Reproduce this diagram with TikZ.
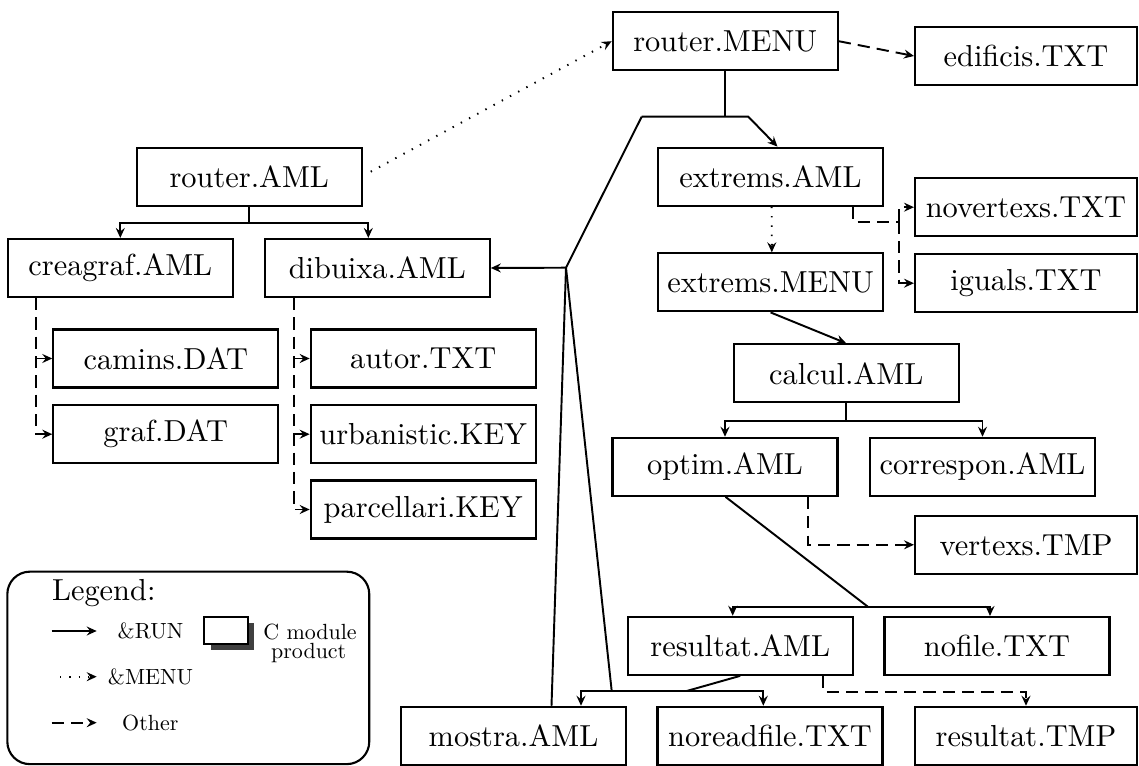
\documentclass[tikz,border=0pt]{standalone}
\usetikzlibrary{arrows.meta,shadows,calc}
\newcommand\bigtxt[1]{\scalebox{1.73}{#1}}
\newcommand\smalltxt[1]{\scalebox{1.25}{#1}}
\begin{document}
\begin{tikzpicture}[x=0.02cm,y=-0.02cm,
  >={Stealth[length=2mm,width=1.8mm,inset=0.7mm]},
  every node/.style={font=\fontsize{10}{12}\selectfont},
  box/.style={draw,line width=1.2pt,inner sep=0pt,minimum width=4.5cm,minimum height=1.16cm},
  rbox/.style={box,minimum width=4.44cm},
  conn/.style={line width=1.1pt},
  dsh/.style={conn,dash pattern=on 7pt off 4pt},
  dts/.style={conn,dash pattern=on 0.8pt off 4.5pt},
  small/.style={inner sep=0pt}]
\useasboundingbox (0,0) rectangle (1139,766);

% boxes
\node[box] (rmenu) at (725.2,41.2) {\bigtxt{router.MENU}};
\node[rbox] (edif) at (1026,56) {\bigtxt{edificis.TXT}};
\node[box] (raml) at (249.2,177.2) {\bigtxt{router.AML}};
\node[box] (eaml) at (770.5,176.7) {\bigtxt{extrems.AML}};
\node[box] (emenu) at (770.6,282.4) {\bigtxt{extrems.MENU}};
\node[rbox] (novert) at (1026,207.2) {\bigtxt{novertexs.TXT}};
\node[rbox] (iguals) at (1026,283.2) {\bigtxt{iguals.TXT}};
\node[box] (creagraf) at (120.3,268) {\bigtxt{creagraf.AML}};
\node[box] (dibuixa) at (377.3,268) {\bigtxt{dibuixa.AML}};
\node[box] (camins) at (165.8,358.5) {\bigtxt{camins.DAT}};
\node[box] (graf) at (165.8,434.2) {\bigtxt{graf.DAT}};
\node[box] (autor) at (423.2,358.5) {\bigtxt{autor.TXT}};
\node[box] (urban) at (423.2,434.2) {\bigtxt{urbanistic.KEY}};
\node[box] (parcel) at (423.2,509.5) {\bigtxt{parcellari.KEY}};
\node[box] (calcul) at (846.2,373.3) {\bigtxt{calcul.AML}};
\node[box] (optim) at (725,466.8) {\bigtxt{optim.AML}};
\node[box] (corresp) at (982.5,466.8) {\bigtxt{correspon.AML}};
\node[rbox] (vertexs) at (1026,544.8) {\bigtxt{vertexs.TMP}};
\node[box] (resaml) at (740.2,645.8) {\bigtxt{resultat.AML}};
\node[box] (nofile) at (997,646) {\bigtxt{nofile.TXT}};
\node[box] (mostra) at (513.5,735.8) {\bigtxt{mostra.AML}};
\node[box] (noread) at (770,735.8) {\bigtxt{noreadfile.TXT}};
\node[rbox] (restmp) at (1026,735.8) {\bigtxt{resultat.TMP}};

% router.MENU fan-out
\coordinate (m1) at (725.2,116.7);
\coordinate (m2) at (641.7,116.7);
\coordinate (m3) at (748.3,116.7);
\coordinate (J) at (566,267.7);
\coordinate (rb) at (611.7,691);
\draw[conn] (rmenu.south) -- (m1);
\draw[conn,->] (m2) -- (m3) -- ($(eaml.north)+(7,0)$);
\draw[conn] (m2) -- (J);
\draw[conn,->] (J) -- (dibuixa.east);
\draw[conn] (J) -- ($(mostra.north)+(38,0)$);
\draw[conn] (J) -- (rb);

% router.AML -> router.MENU (dotted)
\draw[dts,->] ($(raml.east)+(8,-5.5)$) -- (rmenu.west);
% router.MENU -> edificis (dashed)
\draw[dsh,->] (rmenu.east) -- (edif.west);

% extrems.AML
\draw[dts,->] ($(eaml.south)+(1.2,0)$) -- ($(emenu.north)+(1.2,0)$);
\coordinate (d1) at (899,221.7);
\draw[dsh] ($(eaml.south)+(82.8,0)$) |- (d1);
\draw[dsh,->] (d1) |- (novert.west);
\draw[dsh,->] (d1) |- (iguals.west);

% extrems.MENU -> calcul
\draw[conn,->] (emenu.south) -- (calcul.north);
% calcul -> optim, correspon
\draw[conn] (calcul.south) -- ++(0,17.2) coordinate (c1);
\draw[conn,->] (c1) -| (optim.north);
\draw[conn,->] (c1) -| (corresp.north);

% optim -> resultat, nofile
\coordinate (K) at (868.2,607);
\draw[conn] ($(optim.south)+(0.5,0)$) -- (K);
\draw[conn,->] (K) -| ($(resaml.north)+(-7.5,0)$);
\draw[conn,->] (K) -| ($(nofile.north)+(-7,0)$);
\draw[dsh,->] ($(optim.south)+(83,0)$) |- (vertexs.west);

% resultat -> mostra, noreadfile, resultat.TMP
\coordinate (L) at (686.7,691);
\draw[conn] (resaml.south) -- (L);
\draw[conn,->] (L) -| ($(mostra.north)+(67.5,0)$);
\draw[conn,->] (L) -| ($(noread.north)+(-6.7,0)$);
\draw[dsh,->] ($(resaml.south)+(83,0)$) -- ++(0,15.7) -| (restmp.north);

% router.AML -> creagraf, dibuixa
\draw[conn] (raml.south) -- ++(0,15.7) coordinate (r1);
\draw[conn,->] (r1) -| (creagraf.north);
\draw[conn,->] (r1) -| ($(dibuixa.north)+(-9,0)$);

% creagraf files
\coordinate (cg) at ($(creagraf.south west)+(29.3,0)$);
\draw[dsh,->] (cg) |- (graf.west);
\draw[dsh,->] (cg |- camins.west) -- (camins.west);
% dibuixa files
\coordinate (dg) at ($(dibuixa.south west)+(30.3,0)$);
\draw[dsh,->] (dg) |- (parcel.west);
\draw[dsh,->] (dg |- autor.west) -- (autor.west);
\draw[dsh,->] (dg |- urban.west) -- (urban.west);

% legend
\node[draw,line width=1.2pt,rounded corners=0.45cm,minimum width=7.24cm,minimum height=3.85cm] (legend) at (188.3,667.9) {};
\node[anchor=base west,inner sep=0pt] (legtitle) at (51.7,600.5) {\bigtxt{Legend:}};
\coordinate (ls1) at (51.7,631);
\coordinate (ls2) at (96.7,631);
\draw[conn,->] (ls1) -- (ls2);
\node[small] (lrun) at (150.5,631) {\smalltxt{\&RUN}};
\node[draw,line width=1.2pt,fill=white,minimum width=0.88cm,minimum height=0.54cm,inner sep=0pt,
  drop shadow={shadow xshift=0.13cm,shadow yshift=-0.13cm,fill=black!75,opacity=1}] (cmod) at (226,630.3) {};
\node[small] (lcmod) at (310,631.7) {\smalltxt{C module}};
\node[small] (lprod) at (308.7,653.3) {\smalltxt{product}};
\coordinate (ld1) at (60,676.7);
\coordinate (ld2) at (96.7,676.7);
\draw[dts,->] (ld1) -- (ld2);
\node[small] (lmenu) at (150.5,676.7) {\smalltxt{\&MENU}};
\coordinate (le1) at (51.7,722.7);
\coordinate (le2) at (96.7,722.7);
\draw[dsh,->] (le1) -- (le2);
\node[small] (loth) at (150.3,722.7) {\smalltxt{Other}};
\end{tikzpicture}
\end{document}
